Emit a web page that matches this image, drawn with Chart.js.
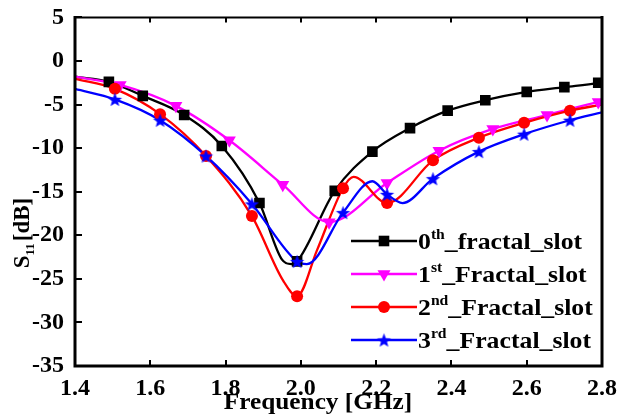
<!DOCTYPE html>
<html>
<head>
<meta charset="utf-8">
<script src="https://cdn.jsdelivr.net/npm/chart.js@4.4.1/dist/chart.umd.min.js"></script>
<style>
  html, body { margin: 0; padding: 0; background: #fff; }
  #wrap { width: 617px; height: 419px; }
</style>
</head>
<body>
<div id="wrap"><canvas id="s11Chart" width="617" height="419"></canvas></div>
<script>
// Datos (frecuencia en GHz, S11 en dB)
const xTicks = [1.4, 1.6, 1.8, 2.0, 2.2, 2.4, 2.6, 2.8];
const yTicks = [5, 0, -5, -10, -15, -20, -25, -30, -35];

// 0th fractal slot: puntos con marcador y puntos extra de la curva
const slot0Freq = [1.49, 1.58, 1.69, 1.79, 1.89, 1.99, 2.09, 2.19, 2.29, 2.39, 2.49, 2.60, 2.70, 2.79];
const slot0Db = [-2.4, -4.0, -6.2, -9.75, -16.3, -23.0, -14.9, -10.4, -7.7, -5.7, -4.5, -3.55, -3.0, -2.5];
const slot0ExtraFreq = [1.40, 1.95, 1.975, 2.80];
const slot0ExtraDb = [-1.8, -22.8, -23.3, -2.4];

// 1st fractal slot
const slot1Freq = [1.52, 1.668, 1.81, 1.952, 2.075, 2.229, 2.367, 2.51, 2.654, 2.79];
const slot1Db = [-2.75, -5.15, -9.1, -14.2, -18.5, -14.0, -10.3, -7.8, -6.2, -4.7];
const slot1ExtraFreq = [1.40, 2.80];
const slot1ExtraDb = [-1.8, -4.6];

// 2nd fractal slot
const slot2Freq = [1.506, 1.626, 1.748, 1.87, 1.99, 2.112, 2.229, 2.351, 2.473, 2.593, 2.715];
const slot2Db = [-3.2, -6.1, -10.9, -17.8, -27.0, -14.6, -16.3, -11.4, -8.8, -7.1, -5.7];
const slot2ExtraFreq = [1.40, 1.953, 2.043, 2.14, 2.80];
const slot2ExtraDb = [-2.05, -25.2, -21.7, -13.3, -5.0];

// 3rd fractal slot
const slot3Freq = [1.506, 1.626, 1.748, 1.87, 1.99, 2.112, 2.229, 2.351, 2.473, 2.593, 2.715];
const slot3Db = [-4.4, -6.8, -10.9, -16.4, -23.0, -17.4, -15.3, -13.5, -10.4, -8.4, -6.8];
const slot3ExtraFreq = [1.40, 2.016, 2.19, 2.27, 2.80];
const slot3ExtraDb = [-3.2, -23.3, -13.8, -16.3, -5.9];

const seriesLabels = [
    ["0", "th", "_fractal_slot"],
    ["1", "st", "_Fractal_slot"],
    ["2", "nd", "_Fractal_slot"],
    ["3", "rd", "_Fractal_slot"],
];

const fontFamily = "'Liberation Serif', 'Times New Roman', serif";

// estrella rellena de 5 puntas para la serie azul
function makeStar(color, r) {
    const c = document.createElement("canvas");
    const size = Math.ceil(r * 2 + 2);
    c.width = size;
    c.height = size;
    const g = c.getContext("2d");
    g.fillStyle = color;
    g.beginPath();
    for (let i = 0; i < 10; i++) {
        const rad = i % 2 === 0 ? r : r * 0.42;
        const a = -Math.PI / 2 + (i * Math.PI) / 5;
        const px = size / 2 + rad * Math.cos(a);
        const py = size / 2 + rad * Math.sin(a) + r * 0.1;
        if (i === 0) g.moveTo(px, py);
        else g.lineTo(px, py);
    }
    g.closePath();
    g.fill();
    return c;
}
const starImg = makeStar("#0000ff", 7.5);

function toPoints(fs, ds) {
    return fs.map((f, i) => ({ x: f, y: ds[i] }));
}
function mergePoints(fs, ds, efs, eds) {
    return toPoints(fs, ds).concat(toPoints(efs, eds)).sort((a, b) => a.x - b.x);
}

const styles = [
    { color: "#000000", pointStyle: "rect", radius: 7.5, rotation: 0 },
    { color: "#ff00ff", pointStyle: "triangle", radius: 7.5, rotation: 180 },
    { color: "#ff0000", pointStyle: "circle", radius: 6, rotation: 0 },
    { color: "#0000ff", pointStyle: starImg, radius: 7, rotation: 0 },
];

const lineData = [
    mergePoints(slot0Freq, slot0Db, slot0ExtraFreq, slot0ExtraDb),
    mergePoints(slot1Freq, slot1Db, slot1ExtraFreq, slot1ExtraDb),
    mergePoints(slot2Freq, slot2Db, slot2ExtraFreq, slot2ExtraDb),
    mergePoints(slot3Freq, slot3Db, slot3ExtraFreq, slot3ExtraDb),
];
const markerData = [
    toPoints(slot0Freq, slot0Db),
    toPoints(slot1Freq, slot1Db),
    toPoints(slot2Freq, slot2Db),
    toPoints(slot3Freq, slot3Db),
];

const datasets = [];
styles.forEach((s, i) => {
    datasets.push({
        type: "line",
        data: lineData[i],
        borderColor: s.color,
        borderWidth: 2.3,
        pointRadius: 0,
        cubicInterpolationMode: "monotone",
        fill: false,
        order: 10 - i,
    });
    datasets.push({
        type: "scatter",
        data: markerData[i],
        backgroundColor: s.color,
        borderColor: s.color,
        borderWidth: 0,
        pointStyle: s.pointStyle,
        pointRadius: s.radius,
        rotation: s.rotation,
        order: 5 - i,
    });
});

// texto estirado en horizontal como en la figura original
function stretchText(ctx, text, x, y, sx, align) {
    const w = ctx.measureText(text).width * sx;
    let left = x;
    if (align === "center") left = x - w / 2;
    ctx.save();
    ctx.translate(left, y);
    ctx.scale(sx, 1);
    ctx.textAlign = "left";
    ctx.fillText(text, 0, 0);
    ctx.restore();
    return w;
}

// marco, marcas hacia dentro, titulos de ejes y leyenda
const framePlugin = {
    id: "framePlugin",
    afterDraw(chart) {
        const ctx = chart.ctx;
        const a = chart.chartArea;
        const xs = chart.scales.x;
        const ys = chart.scales.y;
        ctx.save();
        ctx.strokeStyle = "#000";
        ctx.lineCap = "square";
        ctx.lineWidth = 2;
        ctx.beginPath();
        ctx.moveTo(a.left, a.top);
        ctx.lineTo(a.right, a.top);
        ctx.stroke();
        ctx.lineWidth = 3;
        ctx.beginPath();
        ctx.moveTo(a.left, a.top);
        ctx.lineTo(a.left, a.bottom);
        ctx.lineTo(a.right, a.bottom);
        ctx.lineTo(a.right, a.top);
        ctx.stroke();
        ctx.lineWidth = 2;
        ctx.lineCap = "butt";
        xTicks.forEach((v) => {
            const px = Math.round(xs.getPixelForValue(v));
            ctx.beginPath();
            ctx.moveTo(px, a.bottom);
            ctx.lineTo(px, a.bottom - 6);
            ctx.moveTo(px, a.top);
            ctx.lineTo(px, a.top + 5);
            ctx.stroke();
        });
        yTicks.forEach((v) => {
            const py = Math.round(ys.getPixelForValue(v));
            ctx.beginPath();
            ctx.moveTo(a.left, py);
            ctx.lineTo(a.left + 7, py);
            ctx.stroke();
        });

        // titulo eje x
        ctx.fillStyle = "#000";
        ctx.font = "bold 23px " + fontFamily;
        ctx.textBaseline = "alphabetic";
        stretchText(ctx, "Frequency [GHz]", 318, 409, 1.1, "center");

        // titulo eje y con subindice
        ctx.save();
        ctx.translate(29, 233);
        ctx.rotate(-Math.PI / 2);
        const big = "bold 23px " + fontFamily;
        const small = "bold 13px " + fontFamily;
        ctx.font = big;
        const wS = ctx.measureText("S").width;
        const wB = ctx.measureText("[dB]").width;
        ctx.font = small;
        const w11 = ctx.measureText("11").width;
        let x0 = -(wS + w11 + 2 + wB) / 2;
        ctx.textAlign = "left";
        ctx.font = big;
        ctx.fillText("S", x0, 0);
        ctx.font = small;
        ctx.fillText("11", x0 + wS, 5);
        ctx.font = big;
        ctx.fillText("[dB]", x0 + wS + w11 + 2, 0);
        ctx.restore();

        // leyenda
        const rowY = [241, 274, 307, 340];
        styles.forEach((s, i) => {
            const y = rowY[i];
            ctx.strokeStyle = s.color;
            ctx.lineWidth = 2.5;
            ctx.beginPath();
            ctx.moveTo(351, y);
            ctx.lineTo(417, y);
            ctx.stroke();
            ctx.fillStyle = s.color;
            Chart.helpers.drawPoint(ctx, {
                pointStyle: s.pointStyle,
                radius: s.radius,
                rotation: s.rotation,
                borderWidth: 0,
            }, 384, y);
            const parts = seriesLabels[i];
            ctx.fillStyle = "#000";
            let tx = 418;
            ctx.font = "bold 23px " + fontFamily;
            tx += stretchText(ctx, parts[0], tx, y + 8, 1.12, "left");
            ctx.font = "bold 14px " + fontFamily;
            tx += stretchText(ctx, parts[1], tx, y - 2, 1.12, "left");
            ctx.font = "bold 23px " + fontFamily;
            stretchText(ctx, parts[2], tx, y + 8, 1.12, "left");
        });
        ctx.restore();
    },
};

const s11Chart = new Chart(document.getElementById("s11Chart").getContext("2d"), {
    data: { datasets: datasets },
    options: {
        responsive: false,
        animation: false,
        layout: { padding: { top: 17, right: 15, left: 0, bottom: 0 } },
        plugins: {
            legend: { display: false },
            tooltip: { enabled: false },
        },
        scales: {
            x: {
                type: "linear",
                min: 1.4,
                max: 2.8,
                grid: { display: false },
                border: { display: false },
                afterBuildTicks: (scale) => {
                    scale.ticks = xTicks.map((v) => ({ value: v }));
                },
                afterFit: (scale) => {
                    scale.height = 53;
                },
                ticks: {
                    color: "#000",
                    padding: 0,
                    maxRotation: 0,
                    font: { family: fontFamily, size: 24, weight: "bold" },
                    callback: (v) => Number(v).toFixed(1),
                },
            },
            y: {
                type: "linear",
                min: -35,
                max: 5,
                grid: { display: false },
                border: { display: false },
                afterBuildTicks: (scale) => {
                    scale.ticks = yTicks.map((v) => ({ value: v }));
                },
                afterFit: (scale) => {
                    scale.width = 75;
                },
                ticks: {
                    color: "#000",
                    padding: 3,
                    font: { family: fontFamily, size: 24, weight: "bold" },
                    callback: (v) => String(v),
                },
            },
        },
    },
    plugins: [framePlugin],
});
</script>
</body>
</html>
